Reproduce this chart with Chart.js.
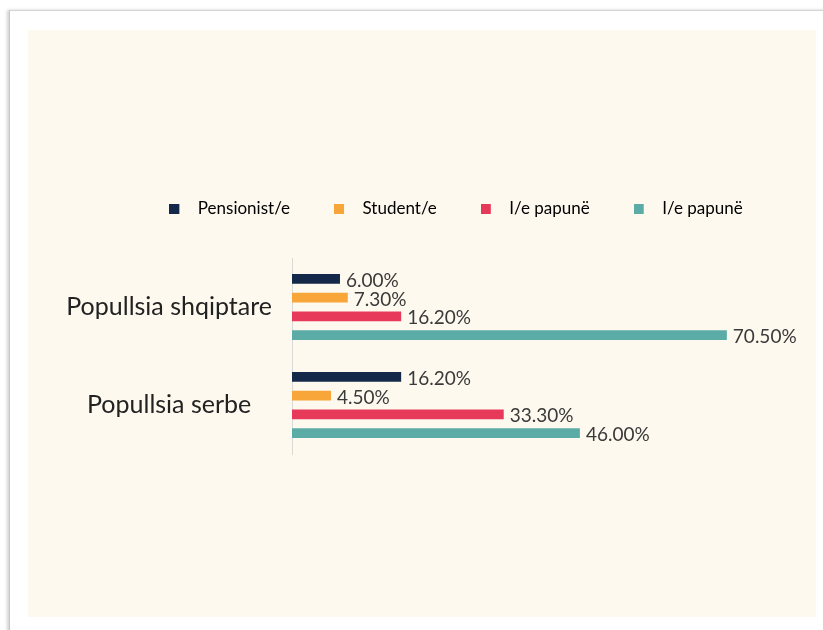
<!DOCTYPE html>
<html>
<head>
<meta charset="utf-8">
<script src="https://cdn.jsdelivr.net/npm/chart.js@4"></script>
<style>
  html, body { margin: 0; padding: 0; background: #fff; overflow: hidden; }
  #frame {
    position: absolute; left: 9px; top: 10px; width: 840px; height: 650px;
    border-left: 1px solid #c8c8c8; border-top: 1px solid #d4d4d4;
    box-shadow: -2px 0 3px rgba(0,0,0,0.18);
    background: #fff;
  }
  #panel {
    position: absolute; left: 28px; top: 30px; width: 788px; height: 587px;
    background: #fdf9ee; overflow: hidden;
  }
</style>
</head>
<body>
<div id="frame"></div>
<div id="panel"><canvas id="chart" width="826" height="587"></canvas></div>
<script>
const categories = ['Popullsia shqiptare', 'Popullsia serbe'];
const seriesNames = ['Pensionist/e', 'Student/e', 'I/e papunë', 'I/e papunë'];
const pensionist = [6.0, 16.2];
const student = [7.3, 4.5];
const papune1 = [16.2, 33.3];
const papune2 = [70.5, 46.0];
const colors = ['#14294a', '#f8a63a', '#e73a5b', '#5baca7'];

const fontFamily = 'Lato, "Noto Sans", sans-serif';

// square legend marker with some empty room after it
function marker(color) {
  const c = document.createElement('canvas');
  c.width = 20; c.height = 10;
  const g = c.getContext('2d');
  g.fillStyle = color;
  g.fillRect(0, 0, 10, 10);
  return c;
}

// extra gap between legend and bars
const legendGap = {
  id: 'legendGap',
  beforeInit(chart) {
    const fit = chart.legend.fit;
    chart.legend.fit = function () {
      fit.call(this);
      this.height += 31;
    };
  }
};

const valueLabels = {
  id: 'valueLabels',
  afterDatasetsDraw(chart) {
    const ctx = chart.ctx;
    ctx.save();
    ctx.font = '19px ' + fontFamily;
    ctx.fillStyle = '#3a3a3a';
    ctx.textAlign = 'left';
    ctx.textBaseline = 'middle';
    chart.data.datasets.forEach((ds, i) => {
      chart.getDatasetMeta(i).data.forEach((bar, j) => {
        ctx.fillText(ds.data[j].toFixed(2) + '%', bar.x + 6, bar.y + 2);
      });
    });
    ctx.restore();
  }
};

const allSeries = [pensionist, student, papune1, papune2];

new Chart(document.getElementById('chart'), {
  type: 'bar',
  data: {
    labels: categories,
    datasets: allSeries.map((vals, i) => ({
      label: seriesNames[i],
      data: vals,
      base: -2,
      backgroundColor: colors[i],
      barPercentage: 0.53,
      categoryPercentage: 0.765
    }))
  },
  options: {
    indexAxis: 'y',
    responsive: false,
    animation: false,
    layout: { padding: { left: 30, right: 0, top: 126, bottom: 163 } },
    plugins: {
      tooltip: { enabled: false },
      legend: {
        position: 'top',
        labels: {
          usePointStyle: true,
          pointStyleWidth: 20,
          padding: 44,
          color: '#333',
          font: { family: fontFamily, size: 17 },
          generateLabels: chart => chart.data.datasets.map((ds, i) => ({
            text: ds.label,
            pointStyle: marker(colors[i]),
            fillStyle: colors[i],
            strokeStyle: colors[i],
            lineWidth: 0,
            datasetIndex: i
          }))
        }
      }
    },
    scales: {
      x: { display: false, min: -2, max: 91.7 },
      y: {
        afterFit: scale => { scale.width = 234; },
        grid: { display: false, drawTicks: false },
        border: { display: true, color: '#d9d9d6', width: 1 },
        ticks: {
          crossAlign: 'center',
          padding: 20,
          color: '#222',
          font: { family: fontFamily, size: 25 }
        }
      }
    }
  },
  plugins: [legendGap, valueLabels]
});
</script>
</body>
</html>
